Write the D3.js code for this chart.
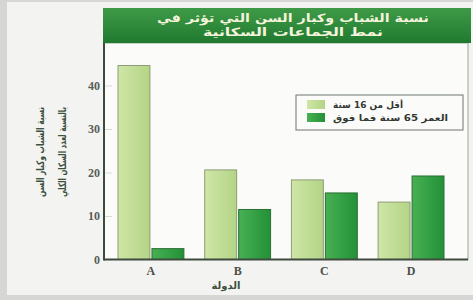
<!DOCTYPE html>
<html><head><meta charset="utf-8">
<script src="https://cdn.jsdelivr.net/npm/d3@7"></script>
<style>html,body{margin:0;padding:0;background:#f3f4f1;}svg{display:block;}</style>
</head><body>
<svg id="c" width="473" height="300"></svg>
<script>
const categories = ["A", "B", "C", "D"];
const seriesNames = ["أقل من 16 سنة", "العمر 65 سنة فما فوق"];
const under16 = [44.6, 20.6, 18.3, 13.2];
const over65 = [2.5, 11.5, 15.3, 19.2];
const yTicks = [0, 10, 20, 30, 40];
const titleLines = ["نسبة الشباب وكبار السن التي تؤثر في", "نمط الجماعات السكانية"];
const yTitleLines = ["نسبة الشباب وكبار السن", "بالنسبة لعدد السكان الكلي"];
const xTitle = "الدولة";

(function(){
const svg = d3.select("#c");
const W = 473, H = 300;
const arab = "'DejaVu Sans', sans-serif";
const serif = "'Liberation Serif', 'DejaVu Serif', serif";

svg.append("rect").attr("x",0).attr("y",0).attr("width",W).attr("height",H).attr("fill","#d6d7d4");
svg.append("rect").attr("x",7).attr("y",2).attr("width",W-7).attr("height",293).attr("fill","#f3f4f1");

const defs = svg.append("defs");
const tg = defs.append("linearGradient").attr("id","tg").attr("x1",0).attr("y1",0).attr("x2",0).attr("y2",1);
tg.append("stop").attr("offset","0%").attr("stop-color","#3f9a47");
tg.append("stop").attr("offset","100%").attr("stop-color","#1f7a30");
const lg = defs.append("linearGradient").attr("id","lg").attr("x1",0).attr("y1",0).attr("x2",1).attr("y2",0);
lg.append("stop").attr("offset","0%").attr("stop-color","#cfe6a6");
lg.append("stop").attr("offset","100%").attr("stop-color","#b3d486");
const dg = defs.append("linearGradient").attr("id","dg").attr("x1",0).attr("y1",0).attr("x2",1).attr("y2",0);
dg.append("stop").attr("offset","0%").attr("stop-color","#47b052");
dg.append("stop").attr("offset","100%").attr("stop-color","#239138");

const pL = 104, pR = 468, pT = 43, pB = 259.5;
svg.append("rect").attr("x",pL).attr("y",pT).attr("width",pR-pL).attr("height",pB-pT)
  .attr("fill","#fbfcfa").attr("stroke","#9aa59a").attr("stroke-width",1);

svg.append("rect").attr("x",103).attr("y",8).attr("width",368).attr("height",35).attr("fill","url(#tg)");
const titleW = [272, 180];
svg.selectAll(".tl").data(titleLines).join("text")
  .attr("x",293).attr("y",(d,i)=>21.5 + i*14.5)
  .attr("text-anchor","middle").attr("fill","#f4f4dc")
  .attr("font-family",arab).attr("font-size",11.5).attr("font-weight","bold")
  .attr("textLength",(d,i)=>titleW[i]).attr("lengthAdjust","spacingAndGlyphs")
  .text(d=>d);

const y = d3.scaleLinear().domain([0,40]).range([pB, 85.5]);
const x0 = d3.scaleBand().domain(categories).range([105,457]).paddingInner(0.24).paddingOuter(0.15);
const x1 = d3.scaleBand().domain([0,1]).range([0,x0.bandwidth()]).paddingInner(0.06);

const yAxis = d3.axisRight(y).tickValues(yTicks).tickSize(8).tickFormat("");
svg.append("g").attr("transform",`translate(${pL},0)`).call(yAxis)
  .call(g=>g.select(".domain").remove())
  .call(g=>g.selectAll("line").attr("stroke","#d8dcd6"));
svg.append("g").selectAll("text").data(yTicks).join("text")
  .attr("x",100).attr("y",d=>y(d)+4).attr("text-anchor","end")
  .attr("font-family",serif).attr("font-size",12).attr("font-weight","bold").attr("fill","#585d58")
  .text(d=>d);

const series = [under16, over65];
const fills = ["url(#lg)","url(#dg)"];
const strokes = ["#8f9c78","#2d6d35"];
series.forEach((vals,si)=>{
  svg.append("g").selectAll("rect").data(categories).join("rect")
    .attr("x",c=>x0(c)+x1(si))
    .attr("y",(c,i)=>y(vals[i]))
    .attr("width",x1.bandwidth())
    .attr("height",(c,i)=>pB - y(vals[i]))
    .attr("fill",fills[si]).attr("stroke",strokes[si]).attr("stroke-width",1);
});

svg.append("line").attr("x1",pL).attr("x2",pL).attr("y1",pT).attr("y2",pB+1)
  .attr("stroke","#3f4a3f").attr("stroke-width",2);
svg.append("line").attr("x1",pL).attr("x2",pR).attr("y1",pB).attr("y2",pB)
  .attr("stroke","#3f4a3f").attr("stroke-width",2);

const xAxis = d3.axisBottom(x0).tickSize(0).tickPadding(7);
svg.append("g").attr("transform",`translate(0,${pB})`).call(xAxis)
  .call(g=>g.select(".domain").remove())
  .call(g=>g.selectAll("text").attr("font-family",serif).attr("font-size",12).attr("font-weight","bold").attr("fill","#4a4f4a"));

svg.append("text").attr("x",226).attr("y",289).attr("text-anchor","middle")
  .attr("font-family",arab).attr("font-size",10).attr("font-weight","bold").attr("fill","#3d4f3d").text(xTitle);

svg.selectAll(".yt").data(yTitleLines).join("text")
  .attr("transform",(d,i)=>`translate(${44 + i*22},152) rotate(-90)`)
  .attr("text-anchor","middle")
  .attr("font-family",arab).attr("font-size",10.5).attr("font-weight","bold").attr("fill","#3d4f3d")
  .attr("textLength",90).attr("lengthAdjust","spacingAndGlyphs")
  .text(d=>d);

const leg = svg.append("g");
leg.append("rect").attr("x",296).attr("y",95).attr("width",167).attr("height",35)
  .attr("fill","#fbfcfa").attr("stroke","#6f746f").attr("stroke-width",1);
const legW = [70, 115];
seriesNames.forEach((n,i)=>{
  leg.append("rect").attr("x",307).attr("y",100+i*13).attr("width",18).attr("height",9)
    .attr("fill",fills[i]);
  leg.append("text").attr("x",333).attr("y",108+i*13)
    .attr("font-family",arab).attr("font-size",9).attr("font-weight","bold").attr("fill","#333833")
    .attr("textLength",legW[i]).attr("lengthAdjust","spacingAndGlyphs").text(n);
});
})();
</script>
</body></html>
